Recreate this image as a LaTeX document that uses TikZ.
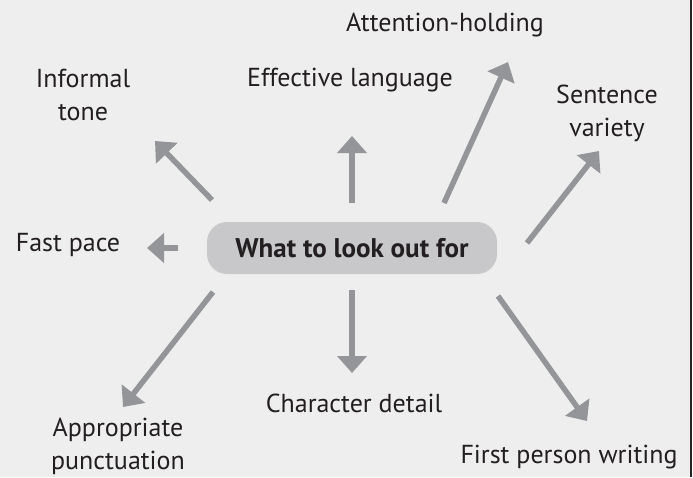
\documentclass[tikz,border=0pt]{standalone}
\usepackage{fontspec}
\setmainfont{PT Sans}
\usepackage{tikz}
\usetikzlibrary{arrows.meta}
\definecolor{panelgrey} {RGB}{238, 238, 238}
\definecolor{hubgrey}   {RGB}{200, 200, 202}
\definecolor{arrowgrey} {RGB}{147, 149, 152}
\definecolor{textdark}  {RGB}{35,  31,  32}
\tikzset{
  hub/.style={
    rounded corners=20pt, fill=hubgrey,
    minimum width=290pt, minimum height=52pt,
    font=\fontsize{27}{32}\selectfont\bfseries, text=textdark
  },
  point/.style={
    align=center, text=textdark,
    font=\fontsize{26}{33}\selectfont
  },
  spoke/.style={
    -{Triangle[length=17pt, width=29pt]}, line width=5.5pt,
    color=arrowgrey
  },
}
\begin{document}
\begin{tikzpicture}[x=1pt, y=-1pt]
  \useasboundingbox (0,0) rectangle (693,477);
  \fill[panelgrey] (0,0) rectangle (690,477);
  \draw[line width=2pt, black!85] (691,0) -- (691,477);

  % centre and the points around it
  \node[hub] (hub) at (352,248) {What to look out for};
  \node[point] (attn) at (445,25)  {Attention-holding};
  \node[point] (tone) at (83,95)   {Informal\\tone};
  \node[point] (lang) at (350,80)  {Effective language};
  \node[point] (vary) at (607,113) {Sentence\\variety};
  \node[point] (pace) at (68,245)  {Fast pace};
  \node[point] (char) at (354,403) {Character detail};
  \node[point] (punc) at (118,446) {Appropriate\\punctuation};
  \node[point] (firs) at (569,457) {First person writing};

  % spoke ends
  \coordinate (tone-s) at (212,200); \coordinate (tone-e) at (155,141);
  \coordinate (pace-s) at (178,248); \coordinate (pace-e) at (147,248);
  \coordinate (lang-s) at (352,203); \coordinate (lang-e) at (352,136);
  \coordinate (attn-s) at (444,203); \coordinate (attn-e) at (508,62);
  \coordinate (vary-s) at (527,243); \coordinate (vary-e) at (599,151);
  \coordinate (punc-s) at (213,292); \coordinate (punc-e) at (123,407);
  \coordinate (char-s) at (352,290); \coordinate (char-e) at (352,373);
  \coordinate (firs-s) at (498,296); \coordinate (firs-e) at (587,421);

  \foreach \p in {tone, pace, lang, attn, vary, punc, char, firs}
    \draw[spoke] (\p-s) -- (\p-e);
\end{tikzpicture}
\end{document}
